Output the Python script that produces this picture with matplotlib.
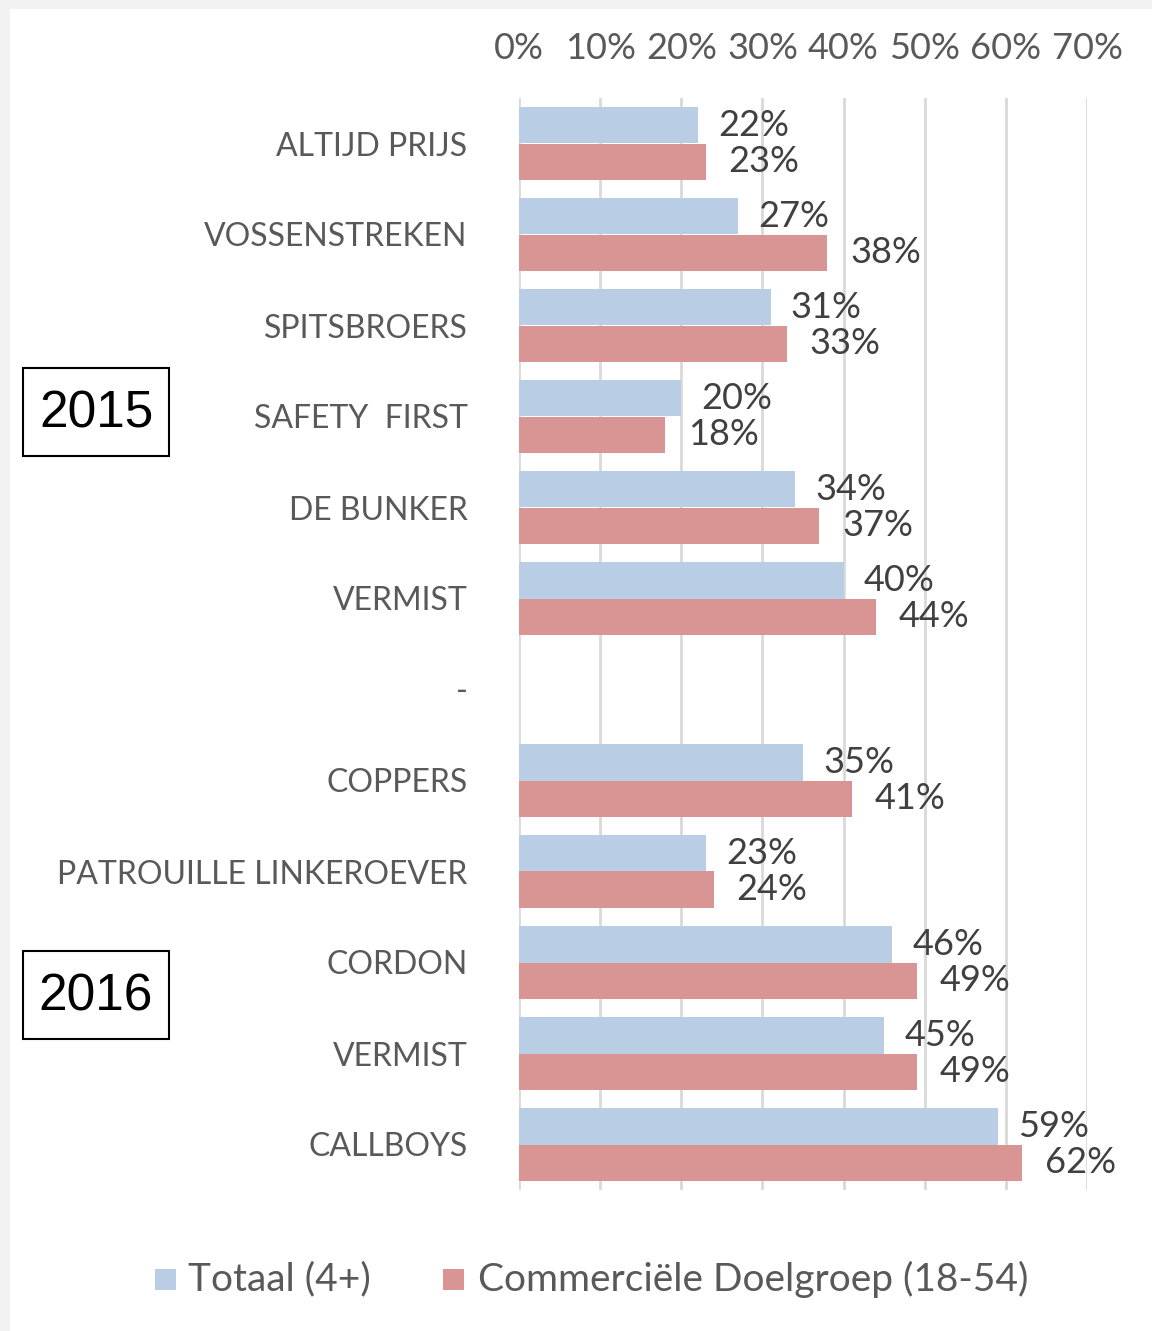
import numpy as np
import matplotlib.pyplot as plt
from matplotlib.patches import Rectangle

# data (top to bottom)
programmas = ["ALTIJD PRIJS", "VOSSENSTREKEN", "SPITSBROERS", "SAFETY  FIRST",
              "DE BUNKER", "VERMIST", "-", "COPPERS", "PATROUILLE LINKEROEVER",
              "CORDON", "VERMIST", "CALLBOYS"]
totaal = [22, 27, 31, 20, 34, 40, None, 35, 23, 46, 45, 59]
doelgroep = [23, 38, 33, 18, 37, 44, None, 41, 24, 49, 49, 62]
ticks = [0, 10, 20, 30, 40, 50, 60, 70]
jaren = ["2015", "2016"]

blauw = "#B9CDE5"
rood = "#D99594"
grijs = "#595959"
plt.rcParams['font.family'] = ['Lato', 'DejaVu Sans']

fig = plt.figure(figsize=(11.52, 13.31), dpi=100)
fig.patch.set_facecolor("#F2F2F2")
fig.patches.append(Rectangle((10/1152, 0), 1, 1 - 9/1331, transform=fig.transFigure,
                             facecolor="white", edgecolor="none", zorder=-10))

ax = fig.add_axes([519/1152, 1 - 1190/1331, 568/1152, 1092/1331])
ax.set_facecolor("none")

n = len(programmas)
y = np.arange(n)
h = 0.4
for i in range(n):
    if totaal[i] is None:
        continue
    ax.barh(y[i] - h/2, totaal[i], height=h, color=blauw, zorder=3)
    ax.barh(y[i] + h/2, doelgroep[i], height=h, color=rood, zorder=3)
    ax.text(totaal[i] + 2.5, y[i] - h/2, f"{totaal[i]}%", va="center", ha="left",
            fontsize=26, color="#404040")
    ax.text(doelgroep[i] + 2.8, y[i] + h/2, f"{doelgroep[i]}%", va="center", ha="left",
            fontsize=26, color="#404040")

ax.set_xlim(0, 70)
ax.set_ylim(n - 0.5, -0.5)
ax.set_xticks(ticks)
ax.set_xticklabels([f"{t}%" for t in ticks], fontsize=26, color=grijs)
ax.xaxis.tick_top()
ax.tick_params(axis="x", length=0, pad=24)
ax.set_yticks(y)
ax.set_yticklabels(programmas, fontsize=23, color=grijs)
ax.tick_params(axis="y", length=0, pad=37)
ax.grid(axis="x", color="#D9D9D9", linewidth=2, zorder=0)
for s in ax.spines.values():
    s.set_visible(False)

# jaartallen
for jaar, ytop in zip(jaren, [368, 951]):
    fig.patches.append(Rectangle((23/1152, 1 - (ytop + 88)/1331), 146/1152, 88/1331,
                                 transform=fig.transFigure, facecolor="white",
                                 edgecolor="black", linewidth=1.5))
    fig.text(96/1152, 1 - (ytop + 46)/1331, jaar, fontsize=37, ha="center", va="center",
             family="Liberation Sans")

# legenda
fig.patches.append(Rectangle((155/1152, 1 - 1290/1331), 21/1152, 21/1331,
                             transform=fig.transFigure, facecolor=blauw, edgecolor="none"))
fig.text(188/1152, 1 - 1279/1331, "Totaal (4+)", fontsize=28, color=grijs, va="center")
fig.patches.append(Rectangle((443/1152, 1 - 1290/1331), 21/1152, 21/1331,
                             transform=fig.transFigure, facecolor=rood, edgecolor="none"))
fig.text(478/1152, 1 - 1279/1331, "Commerciële Doelgroep (18-54)", fontsize=28, color=grijs, va="center")

plt.savefig("out.png", dpi=100, facecolor=fig.get_facecolor())
